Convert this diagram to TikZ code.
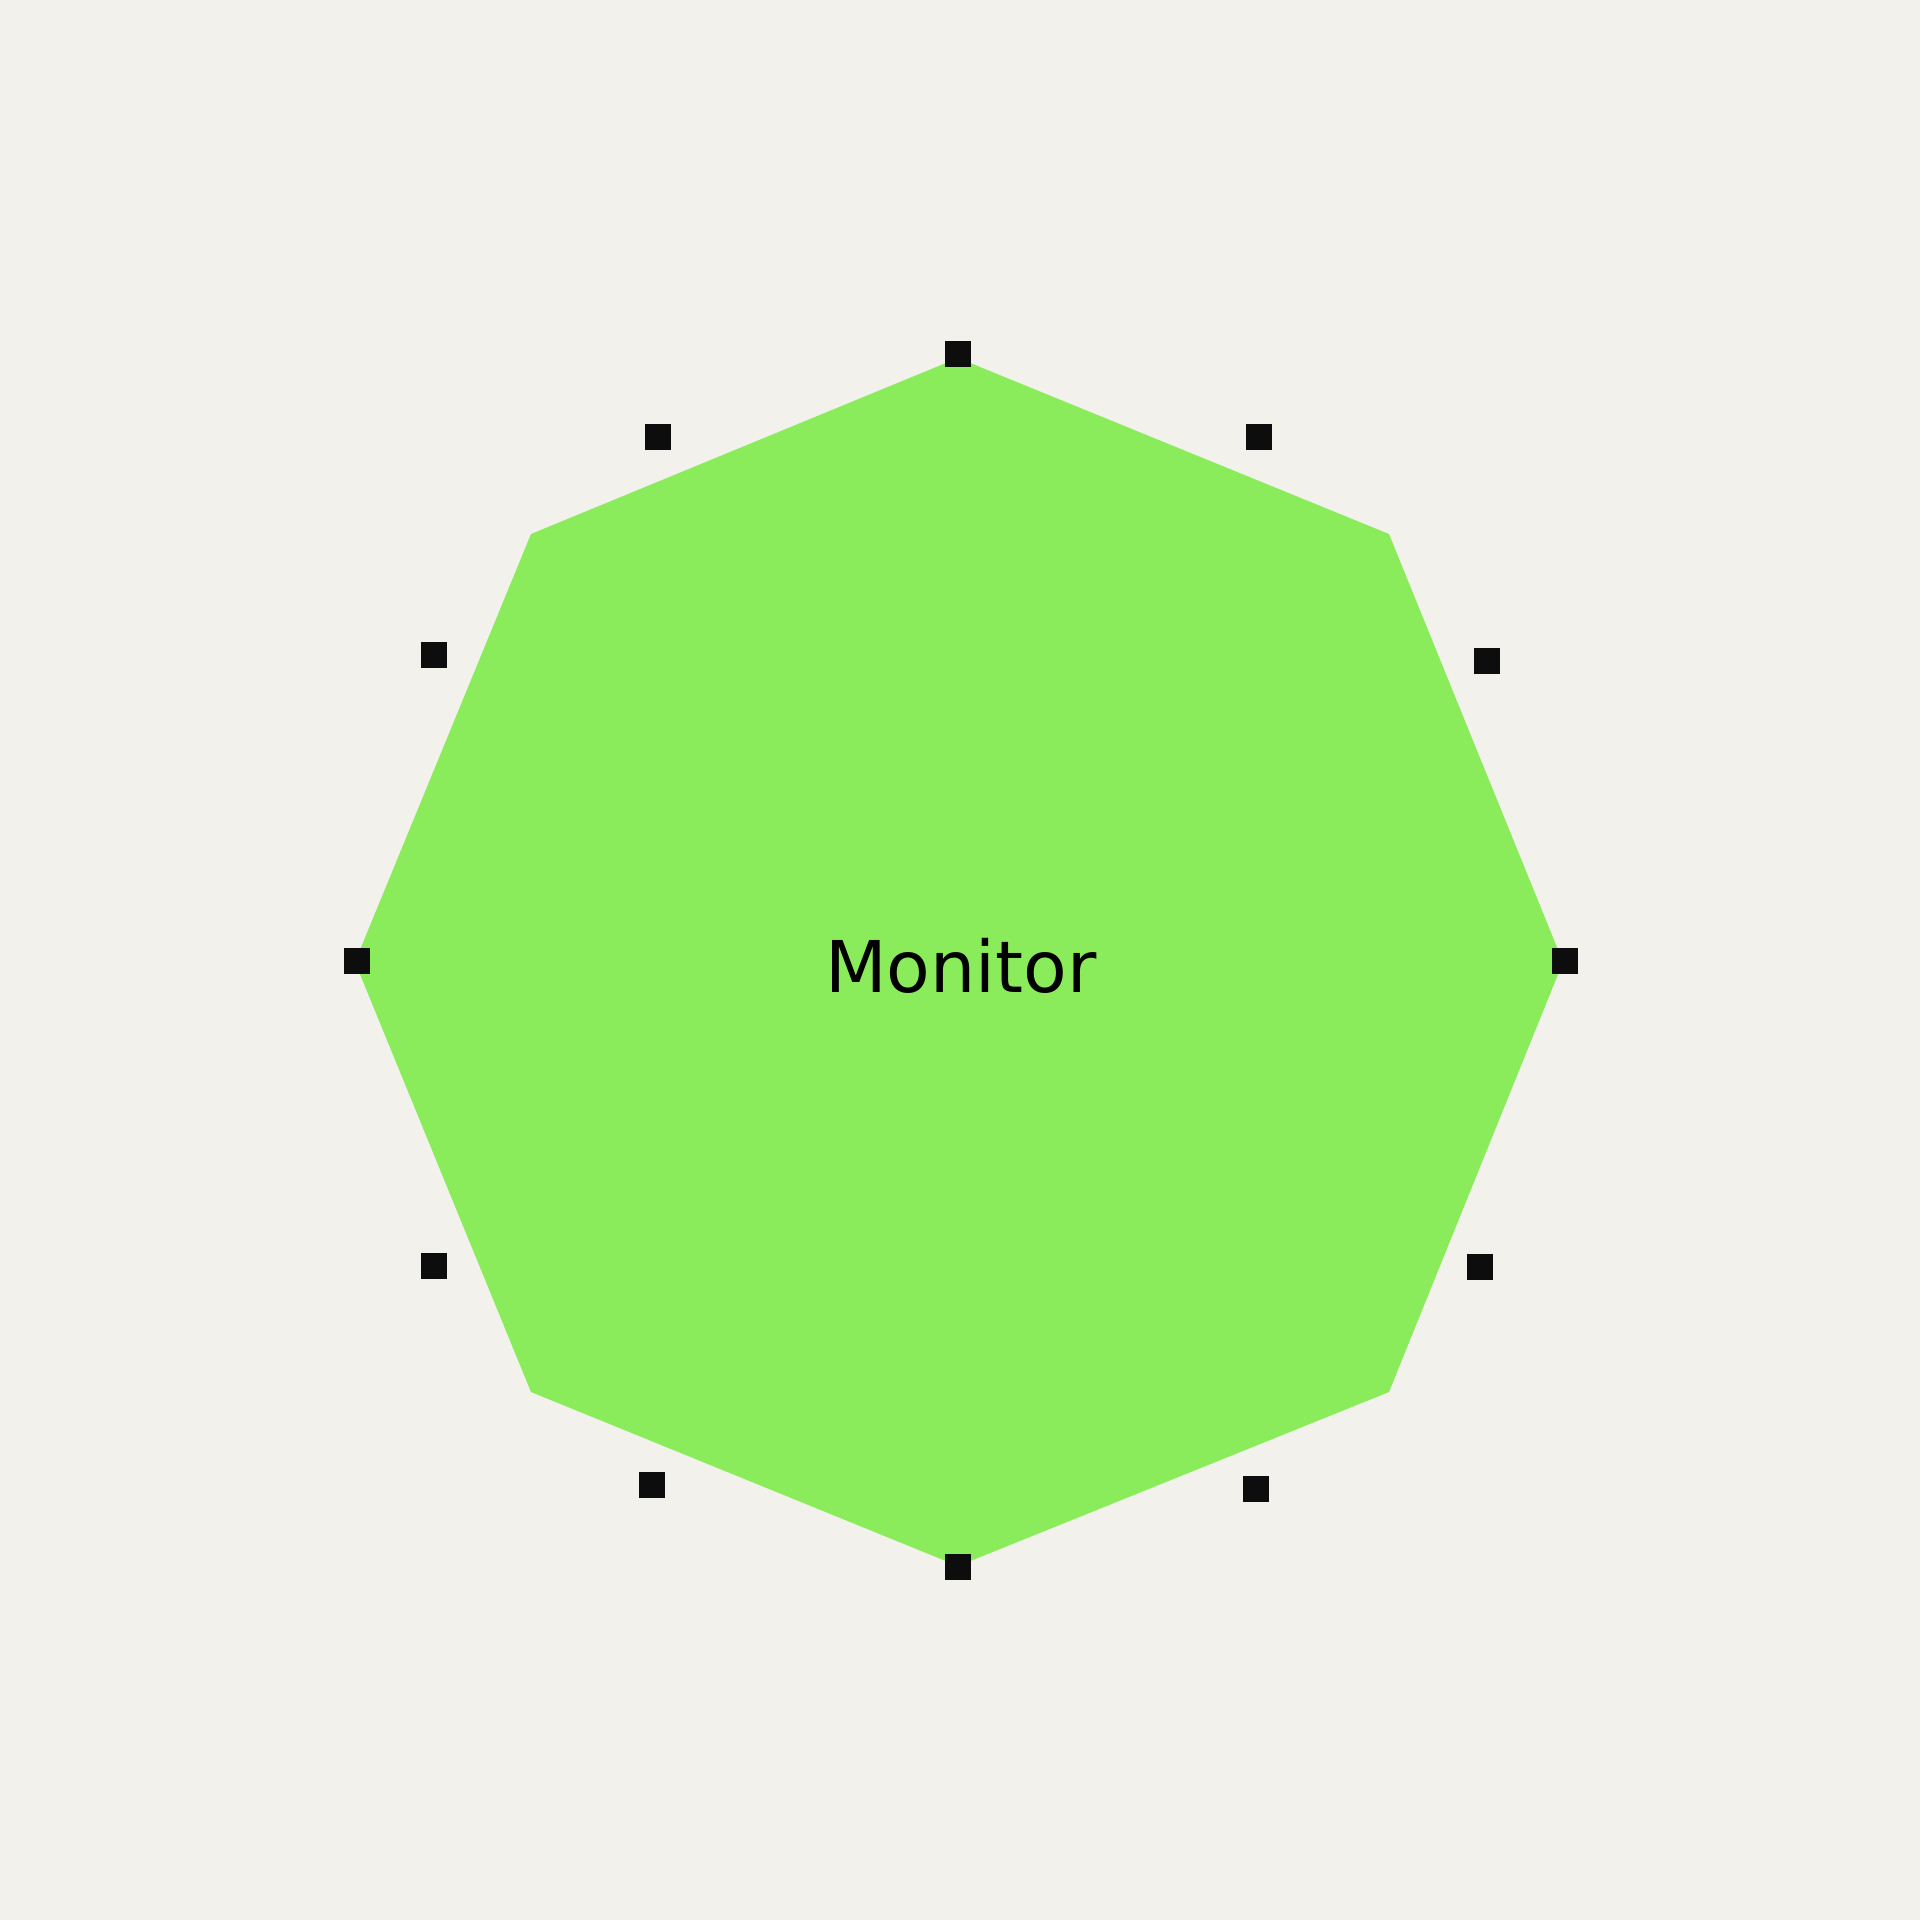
\documentclass[tikz,border=0pt]{standalone}
\usepackage{fontspec}
\setmainfont{DejaVu Sans}
\definecolor{bgc}{HTML}{F2F1EC}
\definecolor{oct}{HTML}{8BEC5B}
\definecolor{sq}{HTML}{0D0D0D}
\begin{document}
\begin{tikzpicture}[x=0.01cm,y=-0.01cm,
  handle/.style={fill=sq,draw=none,minimum size=0.26cm,inner sep=0pt,outer sep=0pt}]
\fill[bgc] (0,0) rectangle (1920,1920);
\useasboundingbox (0,0) rectangle (1920,1920);
\fill[oct] (958,358) -- (1389,534) -- (1563,962) -- (1389,1392) -- (958,1566) -- (531,1392) -- (355,962) -- (531,534) -- cycle;
\node[anchor=base,inner sep=0pt,font=\fontsize{20.3pt}{24pt}\selectfont] (label) at (961,992) {Monitor};
\node[handle] (p1) at (958,354) {};
\node[handle] (p2) at (1259,437) {};
\node[handle] (p3) at (1487,661) {};
\node[handle] (p4) at (1565,961) {};
\node[handle] (p5) at (1480,1267) {};
\node[handle] (p6) at (1256,1489) {};
\node[handle] (p7) at (958,1567) {};
\node[handle] (p8) at (652,1485) {};
\node[handle] (p9) at (434,1266) {};
\node[handle] (p10) at (357,961) {};
\node[handle] (p11) at (434,655) {};
\node[handle] (p12) at (658,437) {};
\end{tikzpicture}
\end{document}
